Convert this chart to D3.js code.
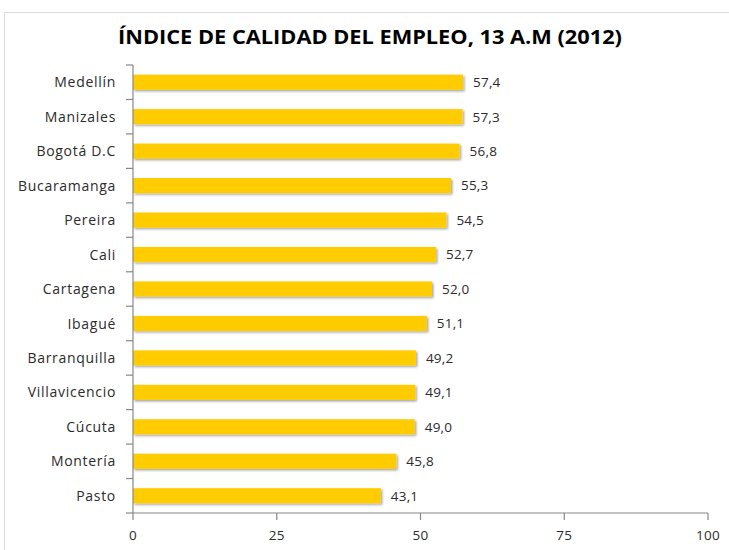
<!DOCTYPE html>
<html><head><meta charset="utf-8">
<script src="https://cdn.jsdelivr.net/npm/d3@7"></script>
<style>body{margin:0;background:#fff;}svg{display:block;}</style>
</head><body>
<script>
const title = "ÍNDICE DE CALIDAD DEL EMPLEO, 13 A.M (2012)";
const cities = ["Medellín","Manizales","Bogotá D.C","Bucaramanga","Pereira","Cali","Cartagena","Ibagué","Barranquilla","Villavicencio","Cúcuta","Montería","Pasto"];
const values = [57.4,57.3,56.8,55.3,54.5,52.7,52.0,51.1,49.2,49.1,49.0,45.8,43.1];
const xTicks = [0,25,50,75,100];

const W = 729, H = 550;
const svg = d3.select("body").append("svg").attr("width", W).attr("height", H);
svg.append("rect").attr("x",4.5).attr("y",12.5).attr("width",740).attr("height",560)
  .attr("fill","#fff").attr("stroke","#d9d9d9");

const defs = svg.append("defs");
const f = defs.append("filter").attr("id","sh").attr("x","-5%").attr("y","-30%").attr("width","115%").attr("height","180%");
f.append("feDropShadow").attr("dx",1.5).attr("dy",1.5).attr("stdDeviation",1).attr("flood-color","#000").attr("flood-opacity",0.35);

svg.append("text").attr("x",370).attr("y",44).attr("text-anchor","middle")
  .attr("font-family","Open Sans, sans-serif").attr("font-weight","bold").attr("font-size",19.5)
  .attr("fill","#000").attr("textLength",504).attr("lengthAdjust","spacingAndGlyphs").text(title);

const x = d3.scaleLinear().domain([0,100]).range([133,708]);
const y = d3.scaleBand().domain(cities).range([65,513]).paddingInner(0.56).paddingOuter(0.28);

// bars
svg.append("g").selectAll("rect").data(cities).join("rect")
  .attr("x", x(0)).attr("y", d=>y(d))
  .attr("width", (d,i)=>x(values[i])-x(0)).attr("height", y.bandwidth())
  .attr("fill","#FFCC00").attr("filter","url(#sh)");

// value labels
svg.append("g").selectAll("text").data(cities).join("text")
  .attr("x",(d,i)=>x(values[i])+10).attr("y",d=>y(d)+y.bandwidth()/2).attr("dy","0.36em")
  .attr("font-family","Open Sans, sans-serif").attr("font-size",13.5).attr("letter-spacing",0.2).attr("fill","#2b2b2b")
  .text((d,i)=>d3.format(".1f")(values[i]).replace(".",","));

// y axis
const step = (513-65)/cities.length;
const ya = svg.append("g");
ya.append("line").attr("x1",x(0)).attr("x2",x(0)).attr("y1",65).attr("y2",513).attr("stroke","#888").attr("stroke-width",1.2);
ya.selectAll("line.t").data(d3.range(cities.length+1)).join("line").attr("class","t")
  .attr("x1",x(0)-7).attr("x2",x(0)).attr("y1",i=>65+i*step).attr("y2",i=>65+i*step).attr("stroke","#888").attr("stroke-width",1.2);
ya.selectAll("text").data(cities).join("text")
  .attr("x",116).attr("y",d=>y(d)+y.bandwidth()/2).attr("dy","0.36em").attr("text-anchor","end")
  .attr("font-family","Open Sans, sans-serif").attr("font-size",14).attr("letter-spacing",0.7).attr("fill","#2b2b2b").text(d=>d);

// x axis
const xa = svg.append("g");
xa.append("line").attr("x1",x(0)).attr("x2",x(100)).attr("y1",513).attr("y2",513).attr("stroke","#888").attr("stroke-width",1.2);
xa.selectAll("line.t").data(xTicks).join("line").attr("class","t")
  .attr("x1",d=>x(d)).attr("x2",d=>x(d)).attr("y1",513).attr("y2",520).attr("stroke","#888").attr("stroke-width",1.2);
xa.selectAll("text").data(xTicks).join("text")
  .attr("x",d=>x(d)).attr("y",535).attr("dy","0.36em").attr("text-anchor","middle")
  .attr("font-family","Open Sans, sans-serif").attr("font-size",13.5).attr("letter-spacing",0.2).attr("fill","#2b2b2b").text(d=>d);
</script>
</body></html>
